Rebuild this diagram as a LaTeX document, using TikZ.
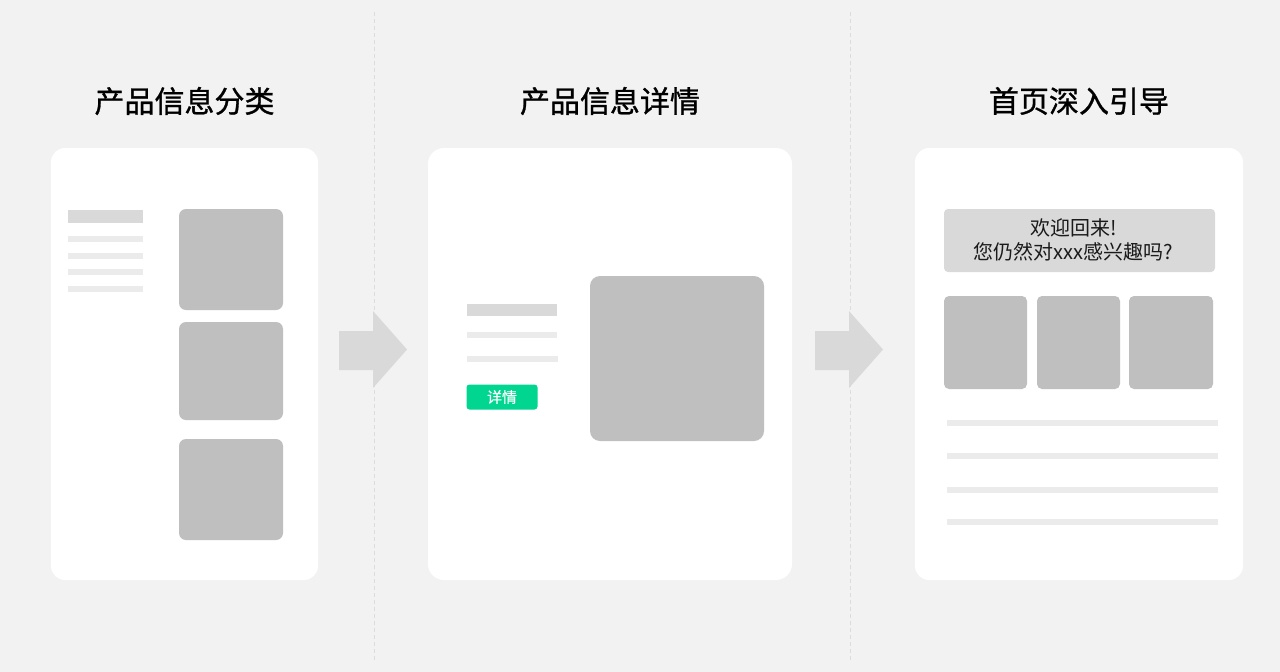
\documentclass[tikz,border=0pt]{standalone}
\usepackage{fontspec}
\newfontfamily\cjk{Noto Sans CJK SC}
\newfontfamily\cjkmed[FakeBold=1]{Noto Sans CJK SC}
\newfontfamily\cjksemi[FakeBold=0.5]{Noto Sans CJK SC}
\definecolor{bgc}{HTML}{F2F2F2}
\definecolor{barc}{HTML}{D9D9D9}
\definecolor{linec}{HTML}{EBEBEB}
\definecolor{blockc}{HTML}{BFBFBF}
\definecolor{btnc}{HTML}{00D68F}
\definecolor{sepc}{HTML}{DCDCDC}
\definecolor{arrowc}{HTML}{D9D9D9}
\definecolor{txtc}{HTML}{000000}
\definecolor{txtb}{HTML}{1A1A1A}
\begin{document}
\begin{tikzpicture}[x=1pt,y=-1pt,
  panel/.style={fill=white,rounded corners=14pt},
  block/.style={fill=blockc,rounded corners=7pt},
  headbar/.style={fill=barc},
  textline/.style={fill=linec},
  sepline/.style={draw=sepc,line width=1pt,dash pattern=on 4pt off 3pt},
  flowarrow/.style={fill=arrowc},
  title/.style={font=\cjkmed\fontsize{30}{36}\selectfont,text=txtc,inner sep=0pt},
  bannertext/.style={font=\cjk\fontsize{20}{23.5}\selectfont,text=txtb,align=center,inner sep=0pt},
  btntext/.style={font=\cjksemi\fontsize{15}{17}\selectfont,text=white,inner sep=0pt}]
\fill[bgc] (0,0) rectangle (1280,672);
\useasboundingbox (0,0) rectangle (1280,672);

% separators
\coordinate (s1a) at (374,12); \coordinate (s1b) at (374,660);
\coordinate (s2a) at (850,12); \coordinate (s2b) at (850,660);
\draw[sepline] (s1a) -- (s1b);
\draw[sepline] (s2a) -- (s2b);

% titles
\node[title] (t1) at (184.5,101) {产品信息分类};
\node[title] (t2) at (610,101) {产品信息详情};
\node[title] (t3) at (1079,101) {首页深入引导};

% panels
\fill[panel] (51,148) rectangle (318,580);
\fill[panel,rounded corners=16pt] (428,148) rectangle (792,580);
\fill[panel] (915,148) rectangle (1243,580);

% left panel content
\fill[headbar] (68,210) rectangle (143,223);
\fill[textline] (68,235.5) rectangle (143,241.5);
\fill[textline] (68,253) rectangle (143,259);
\fill[textline] (68,269) rectangle (143,275);
\fill[textline] (68,285.5) rectangle (143,291.5);
\fill[block] (179,209) rectangle (283,310);
\fill[block] (179,322) rectangle (283,420);
\fill[block] (179,439) rectangle (283,540);

% middle panel content
\fill[headbar] (466.5,303.5) rectangle (557,316);
\fill[textline] (466.5,332) rectangle (557,338);
\fill[textline] (466.5,355.5) rectangle (557.5,361.5);
\fill[btnc,rounded corners=3pt] (466.5,384.5) rectangle (537.5,409.5);
\node[btntext] (b1) at (502,397) {详情};
\fill[block,rounded corners=10pt] (590,276) rectangle (764,441);

% right panel content
\fill[barc,rounded corners=4pt] (944,209) rectangle (1215,272);
\node[bannertext] (w1) at (1073.5,240) {欢迎回来!\\您仍然对xxx感兴趣吗?};
\fill[block,rounded corners=5pt] (944,296) rectangle (1027,389);
\fill[block,rounded corners=5pt] (1037,296) rectangle (1120,389);
\fill[block,rounded corners=5pt] (1129,296) rectangle (1213,389);
\fill[textline] (946.5,419.5) rectangle (1217.5,425.5);
\fill[textline] (946.5,452.5) rectangle (1217.5,458.5);
\fill[textline] (946.5,486.5) rectangle (1217.5,492.5);
\fill[textline] (946.5,519) rectangle (1217.5,525);

% flow arrows
\fill[flowarrow] (339,331) -- (373,331) -- (373,311) -- (407,349.5) -- (373,388) -- (373,370) -- (339,370) -- cycle;
\fill[flowarrow] (815,331) -- (849,331) -- (849,311) -- (883,349.5) -- (849,388) -- (849,370) -- (815,370) -- cycle;
\end{tikzpicture}
\end{document}
